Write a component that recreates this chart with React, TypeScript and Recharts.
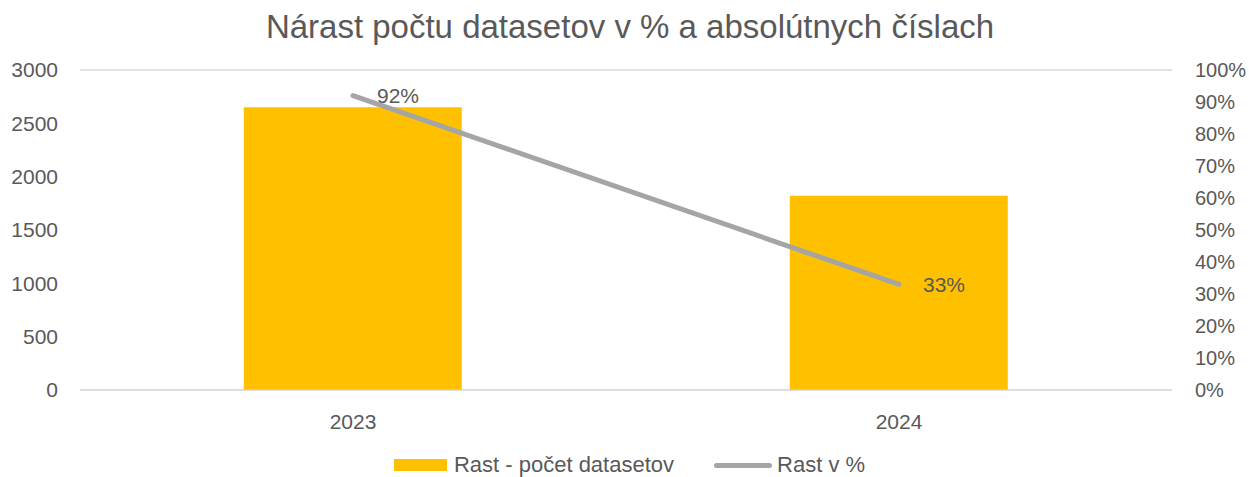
import React from 'react';
import { ComposedChart, Bar, Line, XAxis, YAxis, CartesianGrid, Legend, LabelList } from 'recharts';

const years = ['2023', '2024'];
const growthCount = [2650, 1820];
const growthPct = [0.92, 0.33];
const leftTicks = [0, 500, 1000, 1500, 2000, 2500, 3000];
const rightTicks = [0, 0.1, 0.2, 0.3, 0.4, 0.5, 0.6, 0.7, 0.8, 0.9, 1];

const data = years.map((y, i) => ({ year: y, count: growthCount[i], pct: growthPct[i] }));

const FONT = '"Liberation Sans", Arial, sans-serif';
const TXT = '#595959';

const renderLegend = () => (
  <div style={{ height: 24, display: 'flex', justifyContent: 'center', alignItems: 'center', fontFamily: FONT, fontSize: 22, color: TXT, paddingLeft: 10 }}>
    <span style={{ display: 'inline-block', width: 53, height: 12, background: '#FFC000', marginRight: 7 }} />
    <span style={{ marginRight: 40 }}>Rast - počet datasetov</span>
    <span style={{ display: 'inline-block', width: 58, height: 5, borderRadius: 3, background: '#A5A5A5', marginRight: 5 }} />
    <span>Rast v %</span>
  </div>
);

export default function App() {
  return (
    <div style={{ position: 'absolute', left: 0, top: 0, width: 1249, height: 477, background: '#fff' }}>
      <div style={{ position: 'absolute', left: 0, top: 8, width: 1260, textAlign: 'center', fontFamily: FONT, fontSize: 33, color: TXT, whiteSpace: 'nowrap' }}>
        Nárast počtu datasetov v % a absolútnych číslach
      </div>
      <ComposedChart width={1249} height={477} data={data} margin={{ top: 70, right: 0, left: 0, bottom: 0 }} barCategoryGap="30%">
        <CartesianGrid vertical={false} stroke="#D9D9D9" strokeWidth={1.5} />
        <XAxis dataKey="year" axisLine={{ stroke: '#D9D9D9' }} tickLine={false} tickSize={0} tickMargin={24} height={63}
          tick={{ fill: TXT, fontSize: 21, fontFamily: FONT }} />
        <YAxis yAxisId="left" orientation="left" width={80} domain={[0, 3000]} ticks={leftTicks} axisLine={false} tickLine={false}
          tickSize={0} tickMargin={22} tick={{ fill: TXT, fontSize: 21, fontFamily: FONT }} />
        <YAxis yAxisId="right" orientation="right" width={77} domain={[0, 1]} ticks={rightTicks} axisLine={false} tickLine={false}
          tickSize={0} tickMargin={23} tickFormatter={(v: number) => `${Math.round(v * 100)}%`}
          tick={{ fill: TXT, fontSize: 20, fontFamily: FONT }} />
        <Legend verticalAlign="bottom" content={renderLegend} />
        <Bar yAxisId="left" dataKey="count" name="Rast - počet datasetov" fill="#FFC000" isAnimationActive={false} />
        <Line yAxisId="right" dataKey="pct" name="Rast v %" stroke="#A5A5A5" strokeWidth={5} strokeLinecap="round" dot={false}
          activeDot={false} isAnimationActive={false}>
          <LabelList dataKey="pct" position="right" offset={24} formatter={(v: number) => `${Math.round(v * 100)}%`}
            style={{ fill: TXT, fontSize: 21, fontFamily: FONT }} />
        </Line>
      </ComposedChart>
    </div>
  );
}
